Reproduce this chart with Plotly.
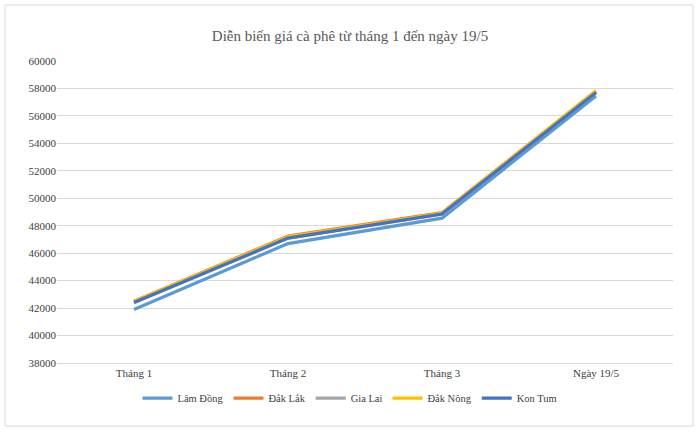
import plotly.graph_objects as go

# data
thang = ["Tháng 1", "Tháng 2", "Tháng 3", "Ngày 19/5"]
lam_dong = [41900, 46700, 48550, 57450]
dak_lak = [42500, 47250, 48950, 57800]
gia_lai = [42400, 47100, 48850, 57700]
dak_nong = [42500, 47200, 48900, 57850]
kon_tum = [42400, 47100, 48850, 57700]

series = [
    ("Lâm Đồng", lam_dong, "#5B9BD5"),
    ("Đắk Lắk", dak_lak, "#ED7D31"),
    ("Gia Lai", gia_lai, "#A5A5A5"),
    ("Đắk Nông", dak_nong, "#FFC000"),
    ("Kon Tum", kon_tum, "#4472C4"),
]

serif = "Liberation Serif, Times New Roman, serif"

fig = go.Figure()
for ten, vals, mau in series:
    fig.add_trace(go.Scatter(x=thang, y=vals, mode="lines", name=ten,
                             line=dict(color=mau, width=3.2)))

fig.update_layout(
    width=700, height=433,
    margin=dict(l=57, r=27, t=61, b=70, autoexpand=False),
    paper_bgcolor="white", plot_bgcolor="white",
    font=dict(family=serif, size=11, color="#404040"),
    title=dict(text="Diễn biến giá cà phê từ tháng 1 đến ngày 19/5",
               x=0.5, xanchor="center", y=1 - 36 / 433, yanchor="middle",
               font=dict(family=serif, size=15, color="#595959")),
    legend=dict(orientation="h", x=(350 - 57) / 616, xanchor="center",
                y=-0.116, yanchor="middle", font=dict(size=10.5, color="#404040"),
                traceorder="normal", itemwidth=30),
    showlegend=True,
)
fig.update_xaxes(type="category", range=[-0.5, 3.5], showgrid=False,
                 showline=True, linecolor="#d9d9d9", linewidth=1,
                 ticks="", tickfont=dict(family=serif, size=11))
fig.update_yaxes(range=[38000, 60000], dtick=2000, showgrid=True,
                 gridcolor="#d9d9d9", gridwidth=1, zeroline=False,
                 showline=False, ticks="", tickformat="d",
                 tickfont=dict(family=serif, size=11))

# outer chart border
fig.add_shape(type="rect", xref="paper", yref="paper",
              x0=-52 / 616, x1=636 / 616, y0=-63 / 302, y1=358 / 302,
              line=dict(color="#d9d9d9", width=1), layer="below")

fig.write_html("out.html", config={"displayModeBar": False},
               post_script="document.body.style.margin='0';")
